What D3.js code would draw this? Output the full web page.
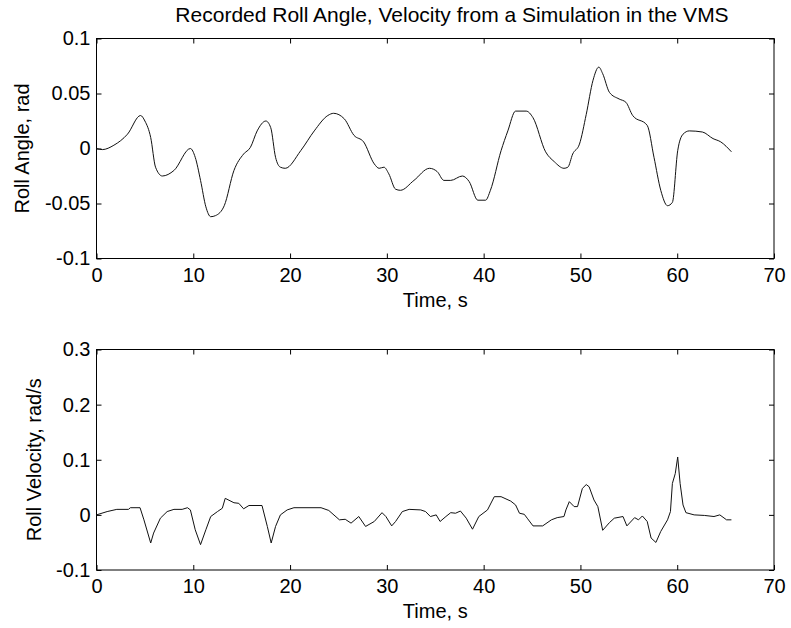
<!DOCTYPE html>
<html>
<head>
<meta charset="utf-8">
<script src="https://cdn.jsdelivr.net/npm/d3@7"></script>
<style>
  html, body { margin: 0; padding: 0; background: #fff; }
  svg { display: block; }
  text { font-family: "Liberation Sans", Arial, sans-serif; fill: #000; }
</style>
</head>
<body>
<svg id="chart" width="791" height="628"></svg>
<script>
const titleText = "Recorded Roll Angle, Velocity from a Simulation in the VMS";
const xLabel = "Time, s";
const yLabelTop = "Roll Angle, rad";
const yLabelBottom = "Roll Velocity, rad/s";

const xTicks = [0, 10, 20, 30, 40, 50, 60, 70];
const yTicksTop = [-0.1, -0.05, 0, 0.05, 0.1];
const yTickLabelsTop = ["-0.1", "-0.05", "0", "0.05", "0.1"];
const yTicksBottom = [-0.1, 0, 0.1, 0.2, 0.3];
const yTickLabelsBottom = ["-0.1", "0", "0.1", "0.2", "0.3"];

// Roll angle (time s, value rad)
const angleTime = [0, 0.6, 1.8, 3.2, 4.55, 5.0, 5.6, 6.1, 6.8, 8.0, 9.7, 10.2, 10.75, 11.3, 11.8, 12.3, 13.2, 14.2, 15.2, 15.9, 16.6, 17.5, 18.0, 18.5, 19.0, 19.5, 21.1, 22.5, 23.9, 24.5, 25.6, 26.6, 27.6, 28.7, 29.2, 29.7, 30.2, 30.9, 31.4, 32.8, 34.4, 35.2, 35.9, 36.6, 37.8, 38.5, 39.4, 40.2, 40.7, 41.8, 42.5, 43.3, 44.4, 45.1, 46.4, 47.3, 48.3, 48.7, 49.2, 49.9, 50.6, 51.3, 51.9, 52.3, 53.0, 54.0, 54.7, 55.4, 56.9, 57.6, 58.3, 59.0, 59.5, 60.05, 60.6, 61.25, 62.6, 63.7, 64.5, 65.6];
const angleValue = [0, -0.001, 0.003, 0.013, 0.030, 0.025, 0.010, -0.017, -0.025, -0.020, 0, -0.008, -0.029, -0.053, -0.062, -0.061, -0.052, -0.020, -0.005, 0.001, 0.016, 0.025, 0.019, -0.008, -0.017, -0.018, -0.002, 0.016, 0.030, 0.032, 0.027, 0.012, 0.006, -0.014, -0.018, -0.017, -0.023, -0.037, -0.038, -0.029, -0.018, -0.021, -0.029, -0.029, -0.025, -0.030, -0.047, -0.047, -0.038, -0.002, 0.016, 0.034, 0.034, 0.028, -0.003, -0.012, -0.018, -0.017, -0.005, 0.004, 0.031, 0.062, 0.074, 0.068, 0.051, 0.045, 0.042, 0.030, 0.021, -0.008, -0.038, -0.052, -0.049, -0.002, 0.013, 0.016, 0.015, 0.009, 0.006, -0.003];

// Roll velocity (time s, value rad/s)
const velTime = [0, 1.1, 2.1, 3.3, 3.5, 4.5, 4.9, 5.6, 5.9, 6.6, 7.3, 8.0, 8.85, 9.4, 9.7, 10.2, 10.75, 11.3, 11.8, 12.5, 13.0, 13.3, 14.2, 14.7, 15.2, 15.75, 17.1, 17.65, 18.05, 18.5, 19.0, 19.7, 20.4, 23.2, 24.0, 25.1, 25.7, 26.3, 27.1, 27.8, 28.7, 29.5, 29.9, 30.5, 30.9, 31.6, 32.3, 33.5, 34.0, 34.5, 35.1, 35.5, 36.1, 36.6, 37.1, 37.6, 38.2, 38.85, 39.5, 40.4, 41.1, 41.8, 42.8, 43.3, 43.7, 44.2, 44.5, 45.1, 46.1, 47.0, 47.6, 48.3, 48.5, 48.85, 49.35, 49.7, 50.2, 50.6, 50.9, 51.4, 51.8, 52.3, 53.0, 53.5, 54.4, 54.8, 55.6, 56.0, 56.4, 56.9, 57.3, 57.8, 58.3, 59.0, 59.3, 59.5, 59.8, 60.05, 60.3, 60.6, 60.9, 61.75, 62.8, 63.8, 64.4, 65.1, 65.6];
const velValue = [0, 0.006, 0.010, 0.010, 0.013, 0.013, -0.009, -0.051, -0.033, -0.006, 0.006, 0.010, 0.010, 0.013, 0.009, -0.027, -0.054, -0.027, -0.003, 0.006, 0.012, 0.030, 0.022, 0.021, 0.011, 0.017, 0.017, -0.021, -0.051, -0.021, 0, 0.009, 0.013, 0.013, 0.008, -0.009, -0.008, -0.015, -0.003, -0.021, -0.012, 0.004, -0.003, -0.020, -0.012, 0.006, 0.010, 0.009, 0.006, -0.003, 0, -0.012, -0.003, 0.004, 0.003, 0.007, -0.006, -0.026, -0.003, 0.009, 0.033, 0.033, 0.025, 0.018, 0.003, 0.001, -0.006, -0.020, -0.020, -0.009, -0.005, -0.003, 0.009, 0.024, 0.015, 0.015, 0.048, 0.055, 0.051, 0.027, 0.015, -0.028, -0.014, -0.006, -0.003, -0.020, -0.005, -0.009, -0.002, -0.012, -0.042, -0.050, -0.030, -0.009, 0.006, 0.057, 0.075, 0.105, 0.057, 0.018, 0.004, 0, -0.001, -0.003, 0, -0.009, -0.009];

const svg = d3.select("#chart");
const left = 96.5, right = 774;
const tickLen = 5;
const FS = 20;

svg.append("text")
  .attr("x", 452).attr("y", 21.5)
  .attr("text-anchor", "middle").attr("font-size", 21)
  .text(titleText);

function panel(top, bottom, yDomain, yTicks, yTickLabels, times, values, yLabel, yLabelX, curve) {
  const x = d3.scaleLinear().domain([0, 70]).range([left, right]);
  const y = d3.scaleLinear().domain(yDomain).range([bottom, top]);
  const g = svg.append("g");

  // inward ticks on all four sides
  const axB = d3.axisBottom(x).tickValues(xTicks).tickSizeInner(-tickLen).tickSizeOuter(0).tickFormat(d3.format("d")).tickPadding(9);
  const axT = d3.axisTop(x).tickValues(xTicks).tickSizeInner(-tickLen).tickSizeOuter(0).tickFormat("");
  const axL = d3.axisLeft(y).tickValues(yTicks).tickSizeInner(-tickLen).tickSizeOuter(0).tickFormat((d, i) => yTickLabels[i]).tickPadding(6);
  const axR = d3.axisRight(y).tickValues(yTicks).tickSizeInner(-tickLen).tickSizeOuter(0).tickFormat("");

  const gb = g.append("g").attr("transform", `translate(0,${bottom})`).call(axB);
  const gt = g.append("g").attr("transform", `translate(0,${top})`).call(axT);
  const gl = g.append("g").attr("transform", `translate(${left},0)`).call(axL);
  const gr = g.append("g").attr("transform", `translate(${right},0)`).call(axR);
  [gb, gt, gl, gr].forEach(a => {
    a.select(".domain").remove();
    a.selectAll(".tick line").attr("stroke", "#000").attr("stroke-width", 1);
    a.selectAll("text").attr("font-size", FS).attr("font-family", "Liberation Sans, Arial, sans-serif").attr("fill", "#000");
  });

  g.append("rect")
    .attr("x", left).attr("y", top)
    .attr("width", right - left).attr("height", bottom - top)
    .attr("fill", "none").attr("stroke", "#000").attr("stroke-width", 1);

  const pts = times.map((t, i) => [t, values[i]]);
  g.append("path")
    .datum(pts)
    .attr("fill", "none").attr("stroke", "#111").attr("stroke-width", 1)
    .attr("d", d3.line().x(d => x(d[0])).y(d => y(d[1])).curve(curve));

  g.append("text")
    .attr("x", (left + right) / 2).attr("y", bottom + 48)
    .attr("text-anchor", "middle").attr("font-size", FS)
    .text(xLabel);

  g.append("text")
    .attr("transform", `translate(${yLabelX},${(top + bottom) / 2}) rotate(-90)`)
    .attr("text-anchor", "middle").attr("font-size", FS)
    .text(yLabel);
}

panel(38.5, 258.5, [-0.1, 0.1], yTicksTop, yTickLabelsTop, angleTime, angleValue, yLabelTop, 29, d3.curveMonotoneX);
panel(349.5, 570, [-0.1, 0.3], yTicksBottom, yTickLabelsBottom, velTime, velValue, yLabelBottom, 41, d3.curveLinear);
</script>
</body>
</html>
